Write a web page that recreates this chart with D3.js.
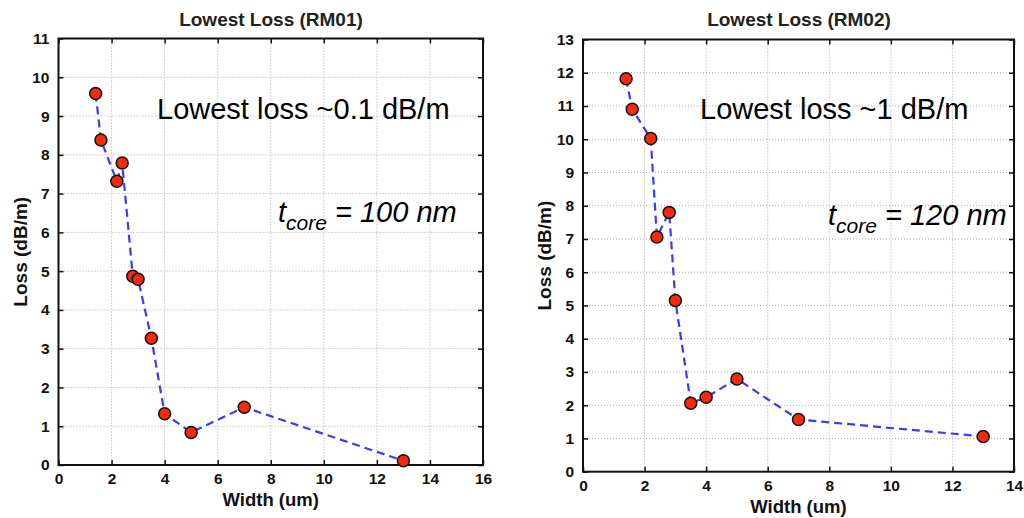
<!DOCTYPE html>
<html>
<head>
<meta charset="utf-8">
<script src="https://cdn.jsdelivr.net/npm/d3@7"></script>
<style>
  body { margin: 0; background: #fff; }
  svg { display: block; font-family: "Liberation Sans", Arial, Helvetica, sans-serif; }
</style>
</head>
<body>
<svg id="chart" width="1024" height="518"></svg>
<script>
// ---- data ----
const width1 = [1.4, 1.6, 2.2, 2.4, 2.8, 3.0, 3.5, 4.0, 5.0, 7.0, 13.0];
const loss1  = [9.58, 8.38, 7.32, 7.79, 4.87, 4.79, 3.27, 1.32, 0.84, 1.49, 0.11];
const width2 = [1.4, 1.6, 2.2, 2.4, 2.8, 3.0, 3.5, 4.0, 5.0, 7.0, 13.0];
const loss2  = [11.82, 10.9, 10.02, 7.06, 7.8, 5.15, 2.06, 2.24, 2.79, 1.57, 1.06];
const xTicks1 = [0, 2, 4, 6, 8, 10, 12, 14, 16];
const yTicks1 = [0, 1, 2, 3, 4, 5, 6, 7, 8, 9, 10, 11];
const xTicks2 = [0, 2, 4, 6, 8, 10, 12, 14];
const yTicks2 = [0, 1, 2, 3, 4, 5, 6, 7, 8, 9, 10, 11, 12, 13];
const titles = ["Lowest Loss (RM01)", "Lowest Loss (RM02)"];
const xLabel = "Width (um)";
const yLabel = "Loss (dB/m)";
const notes = ["Lowest loss ~0.1 dB/m", "Lowest loss ~1 dB/m"];
const coreNotes = ["100 nm", "120 nm"];

const svg = d3.select("#chart");

const panels = [
  { xs: width1, ys: loss1, xT: xTicks1, yT: yTicks1, xDom: [0, 16], yDom: [0, 11],
    box: { l: 58.5, r: 483, t: 38.5, b: 465 }, title: titles[0], note: notes[0], core: coreNotes[0],
    titleX: 271, ylabX: 20, noteX: 157, noteY: 119, coreX: 278, coreY: 222, xlabY: 506 },
  { xs: width2, ys: loss2, xT: xTicks2, yT: yTicks2, xDom: [0, 14], yDom: [0, 13],
    box: { l: 583, r: 1014, t: 39.5, b: 471.7 }, title: titles[1], note: notes[1], core: coreNotes[1],
    titleX: 799, ylabX: 544, noteX: 700, noteY: 119, coreX: 828, coreY: 225, xlabY: 513 }
];

panels.forEach(p => {
  const b = p.box;
  const x = d3.scaleLinear().domain(p.xDom).range([b.l, b.r]);
  const y = d3.scaleLinear().domain(p.yDom).range([b.b, b.t]);
  const g = svg.append("g");

  // grid
  g.append("g").selectAll("line.vg").data(p.xT.slice(1, -1)).join("line")
    .attr("x1", d => x(d)).attr("x2", d => x(d)).attr("y1", b.t).attr("y2", b.b)
    .attr("stroke", "#aaa").attr("stroke-width", 1).attr("stroke-dasharray", "1,2");
  g.append("g").selectAll("line.hg").data(p.yT.slice(1, -1)).join("line")
    .attr("y1", d => y(d)).attr("y2", d => y(d)).attr("x1", b.l).attr("x2", b.r)
    .attr("stroke", "#aaa").attr("stroke-width", 1).attr("stroke-dasharray", "1,2");

  // axes (MATLAB-like: inward ticks on all four sides)
  const tickLen = 5;
  const fmt = d3.format("d");
  const axB = g.append("g").attr("transform", `translate(0,${b.b})`)
    .call(d3.axisBottom(x).tickValues(p.xT).tickSize(-tickLen).tickPadding(8).tickFormat(fmt));
  const axT = g.append("g").attr("transform", `translate(0,${b.t})`)
    .call(d3.axisTop(x).tickValues(p.xT).tickSize(-tickLen).tickFormat(""));
  const axL = g.append("g").attr("transform", `translate(${b.l},0)`)
    .call(d3.axisLeft(y).tickValues(p.yT).tickSize(-tickLen).tickPadding(9).tickFormat(fmt));
  const axR = g.append("g").attr("transform", `translate(${b.r},0)`)
    .call(d3.axisRight(y).tickValues(p.yT).tickSize(-tickLen).tickFormat(""));
  [axB, axT, axL, axR].forEach(a => {
    a.select(".domain").remove();
    a.selectAll(".tick line").attr("stroke", "#111").attr("stroke-width", 1.5);
    a.selectAll(".tick text").attr("fill", "#111").style("font-size", "15.5px").style("font-weight", "bold")
      .style("font-family", '"Liberation Sans", Arial, sans-serif');
  });
  axB.selectAll(".tick text").attr("dy", "0.71em");
  g.append("rect").attr("x", b.l).attr("y", b.t).attr("width", b.r - b.l).attr("height", b.b - b.t)
    .attr("fill", "none").attr("stroke", "#111").attr("stroke-width", 2);

  // line
  const pts = p.xs.map((v, i) => [v, p.ys[i]]);
  g.append("path").datum(pts)
    .attr("d", d3.line().x(d => x(d[0])).y(d => y(d[1])))
    .attr("fill", "none").attr("stroke", "#3a3aff").attr("stroke-width", 2.2)
    .attr("stroke-dasharray", "8,5");

  // markers
  g.append("g").selectAll("circle").data(pts).join("circle")
    .attr("cx", d => x(d[0])).attr("cy", d => y(d[1])).attr("r", 6)
    .attr("fill", "#f42a0c").attr("stroke", "#111").attr("stroke-width", 1.5);

  // title & labels
  g.append("text").attr("x", p.titleX).attr("y", 26).attr("text-anchor", "middle")
    .style("font-size", "19px").style("font-weight", "bold").attr("fill", "#222").text(p.title);
  g.append("text").attr("x", (b.l + b.r) / 2).attr("y", p.xlabY).attr("text-anchor", "middle")
    .style("font-size", "18.5px").style("font-weight", "bold").attr("fill", "#111").text(xLabel);
  g.append("text").attr("transform", `translate(${p.ylabX + 7},${(b.t + b.b) / 2}) rotate(-90)`)
    .attr("text-anchor", "middle")
    .style("font-size", "19px").style("font-weight", "bold").attr("fill", "#111").text(yLabel);

  // annotations
  g.append("text").attr("x", p.noteX).attr("y", p.noteY)
    .style("font-size", "29px").attr("fill", "#000").text(p.note);
  const t = g.append("text").attr("x", p.coreX).attr("y", p.coreY)
    .style("font-size", "29px").style("font-style", "italic").attr("fill", "#000");
  t.append("tspan").text("t");
  t.append("tspan").attr("dy", 8).style("font-size", "21px").text("core");
  t.append("tspan").attr("dy", -8).text(" = " + p.core);
});
</script>
</body>
</html>
